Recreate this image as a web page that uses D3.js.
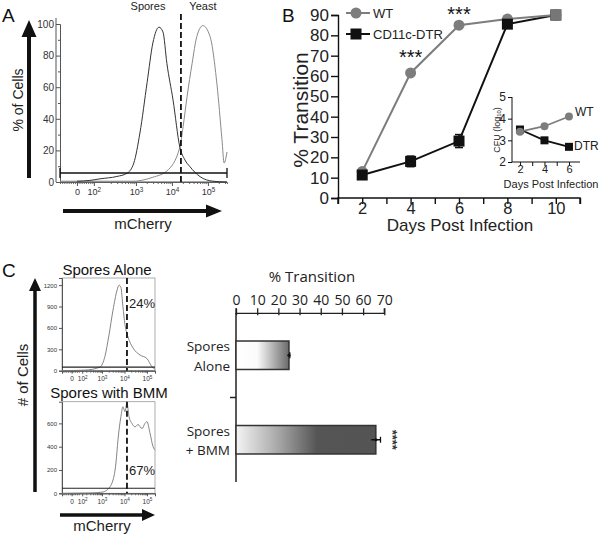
<!DOCTYPE html>
<html><head><meta charset="utf-8">
<script src="https://cdn.jsdelivr.net/npm/d3@7"></script>
<style>
body{margin:0;background:#fff;}
svg{display:block;font-family:"Liberation Sans",Arial,sans-serif;}
</style></head>
<body><svg id="c" width="600" height="537"></svg>
<script>
// ---------- DATA ----------
// Panel A: flow histograms (x = log10 mCherry, y = % of cells)
const sporesLog = [1.36,1.72,2.0,2.47,2.75,2.94,3.11,3.31,3.47,3.64,3.75,3.86,4.03,4.22,4.36,4.5,4.78,5.14,5.53];
const sporesPct = [0.5,1,2,3.5,5.5,12,31,63,88,98,95,75,52,22,14,9.7,3.4,0.5,0];
const yeastLog = [0.89,2.92,3.47,3.86,4.22,4.31,4.42,4.56,4.69,4.86,5.06,5.25,5.39,5.45,5.53];
const yeastPct = [0.5,0.5,3,7,22,35,54,75,92,99,92,62,27,12,19];
const aYTicks = [0,20,40,60,80,100];
const aXTickLog = [1.36,1.83,3,4,5];
const aXTickLabels = [["0",""],["10","2"],["10","3"],["10","4"],["10","5"]];
const gateA = 5.7, thresholdA = 4.25;
const peakLabelsA = ["Spores","Yeast"];

// Panel B: % transition over days
const days = [2,4,6,8,10];
const wtPct = [13,61.5,85,88,90];
const wtErr = [1,1,1.5,0.5,0.5];
const dtrPct = [11.3,18,28,85.5,90];
const dtrErr = [1,2.6,3.2,1,0.5];
const bYTicks = [0,10,20,30,40,50,60,70,80,90];
const sigDays = [4,6];
const sigLevel = [61.5,85];
const seriesNames = ["WT","CD11c-DTR"];
// Inset: CFU
const insetDays = [2,4,6];
const wtCFU = [3.4,3.65,4.1];
const dtrCFU = [3.5,3.0,2.7];
const insetNames = ["WT","DTR"];

// Panel C: histograms
const aloneLog = [1.22,2.24,2.91,3.13,3.31,3.49,3.67,3.76,3.84,3.93,4.02,4.16,4.38,4.69,5.0,5.22,5.36];
const aloneCount = [0,8,50,200,500,850,1130,1200,1170,900,650,470,318,220,170,56,20];
const bmmLog = [1.22,2.47,3.0,3.22,3.49,3.62,3.71,3.84,3.93,4.02,4.11,4.2,4.33,4.47,4.6,4.78,4.91,5.0,5.13,5.27,5.36];
const bmmCount = [0,3,10,28,114,260,458,658,743,700,775,658,600,570,590,555,600,615,520,400,370];
const c1YTicks = [0,300,600,900,1200];
const c2YTicks = [0,200,400,600];
const cXTickLog = [1.65,2.12,3,4,5];
const gateC1 = 50, gateC2 = 43, thresholdC = 4.11;
const pctLabels = ["24%","67%"];
// Panel C bars
const barCats = ["Spores Alone","Spores + BMM"];
const barLines = [["Spores","Alone"],["Spores","+ BMM"]];
const barVals = [25,66];
const barErr = [0.4,2.2];
const barTicks = [0,10,20,30,40,50,60,70];

// ---------- DRAW ----------
const svg = d3.select("#c");
svg.append("rect").attr("width",600).attr("height",537).attr("fill","#fff");
const defs = svg.append("defs");
const fmtInt = d3.format("d");

function arrow(g, x1,y1,x2,y2, shaftW, headL, headW){
  const dx=x2-x1, dy=y2-y1, L=Math.hypot(dx,dy), ux=dx/L, uy=dy/L, px=-uy, py=ux;
  const bx=x2-ux*headL, by=y2-uy*headL;
  const pts=[[x1+px*shaftW/2,y1+py*shaftW/2],[bx+px*shaftW/2,by+py*shaftW/2],[bx+px*headW,by+py*headW],[x2,y2],
    [bx-px*headW,by-py*headW],[bx-px*shaftW/2,by-py*shaftW/2],[x1-px*shaftW/2,y1-py*shaftW/2]];
  g.append("path").attr("d","M"+pts.map(p=>p.join(",")).join("L")+"Z").attr("fill","#111");
}
function panelLabel(t,x,y){ svg.append("text").attr("x",x).attr("y",y).attr("font-size",19).attr("fill","#111").text(t); }
function supLabels(sel, labels, fs){
  sel.each(function(d,i){
    const t=d3.select(this); t.text(null);
    t.append("tspan").text(labels[i][0]);
    if(labels[i][1]) t.append("tspan").attr("font-size",fs*0.7).attr("dy",-fs*0.4).text(labels[i][1]);
  });
}

// ===== Panel A =====
panelLabel("A",2,22);
const gA = svg.append("g");
const xA = d3.scaleLinear().domain([0.889,5.53]).range([60,227]);
const yA = d3.scaleLinear().domain([0,100]).range([182,24]);
gA.append("g").attr("transform","translate(60,0)")
  .call(d3.axisLeft(yA).tickValues(d3.range(10,100,20)).tickSize(2).tickFormat(""))
  .call(g=>g.selectAll("path,line").attr("stroke","#555"));
gA.append("g").attr("transform","translate(60,0)")
  .call(d3.axisLeft(yA).tickValues(aYTicks).tickSize(4).tickPadding(2))
  .call(g=>{g.selectAll("path,line").attr("stroke","#555");g.selectAll("text").attr("font-size",10).attr("fill","#333").attr("font-family","Liberation Sans, Arial");g.select(".domain").attr("d","M-4,182V18");});
const aMinor=[];
d3.range(0.95,1.83,0.06).forEach(v=>aMinor.push(v));
[2,3,4].forEach(dec=>d3.range(2,10).forEach(k=>aMinor.push(dec+Math.log10(k))));
[2,3,4,5,6].forEach(k=>aMinor.push(5+Math.log10(k)));
gA.append("g").attr("transform","translate(0,182)")
  .call(d3.axisBottom(xA).tickValues(aMinor.filter(v=>v<=5.53)).tickSize(2).tickFormat(""))
  .call(g=>{g.selectAll("path,line").attr("stroke","#666");});
gA.append("g").attr("transform","translate(0,182)")
  .call(d3.axisBottom(xA).tickValues(aXTickLog).tickSize(4).tickPadding(3))
  .call(g=>{g.selectAll("path,line").attr("stroke","#555");g.select(".domain").attr("d","M60,0H227");
    const tx=g.selectAll("text").attr("font-size",9).attr("fill","#333"); supLabels(tx,aXTickLabels,9);});
const lineA = d3.line().x(d=>xA(d[0])).y(d=>yA(d[1])).curve(d3.curveMonotoneX);
gA.append("path").datum(d3.zip(yeastLog,yeastPct)).attr("d",lineA).attr("fill","none").attr("stroke","#8a8a8a").attr("stroke-width",1);
gA.append("path").datum(d3.zip(sporesLog,sporesPct)).attr("d",lineA).attr("fill","none").attr("stroke","#333").attr("stroke-width",1);
gA.append("line").attr("x1",60).attr("x2",227).attr("y1",yA(gateA)).attr("y2",yA(gateA)).attr("stroke","#111").attr("stroke-width",1.3);
[60,227].forEach(x=>gA.append("line").attr("x1",x).attr("x2",x).attr("y1",yA(gateA)-5).attr("y2",yA(gateA)+5).attr("stroke","#111").attr("stroke-width",1.3));
gA.append("line").attr("x1",xA(thresholdA)).attr("x2",xA(thresholdA)).attr("y1",14).attr("y2",182)
  .attr("stroke","#111").attr("stroke-width",1.8).attr("stroke-dasharray","6,3");
gA.append("text").attr("x",xA(3.64)-11).attr("y",10).attr("text-anchor","middle").attr("font-size",11).attr("fill","#222").text(peakLabelsA[0]);
gA.append("text").attr("x",xA(4.86)).attr("y",10).attr("text-anchor","middle").attr("font-size",11).attr("fill","#222").text(peakLabelsA[1]);
arrow(gA,29,178,29,20,4,17,7.5);
arrow(gA,63,211,222,211,4,16,6.5);
gA.append("text").attr("transform","translate(18,100) rotate(-90)").attr("text-anchor","middle").attr("dominant-baseline","central").attr("font-size",14).attr("fill","#222").text("% of Cells");
gA.append("text").attr("x",143).attr("y",229).attr("text-anchor","middle").attr("font-size",15).attr("fill","#222").text("mCherry");

// ===== Panel B =====
panelLabel("B",282,22);
const gB = svg.append("g");
const xB = d3.scaleLinear().domain([1,11]).range([338,580]);
const yB = d3.scaleLinear().domain([0,90]).range([198,15]);
gB.append("g").attr("transform","translate(338,0)")
  .call(d3.axisLeft(yB).tickValues(bYTicks).tickSize(7).tickPadding(2))
  .call(g=>{g.selectAll("path,line").attr("stroke","#111").attr("stroke-width",1.4);g.selectAll("text").attr("font-size",17).attr("fill","#222").attr("font-family","Liberation Sans, Arial");});
gB.append("g").attr("transform","translate(0,198)")
  .call(d3.axisBottom(xB).tickValues(d3.range(1,12)).tickSize(6).tickFormat(d=>d%2===0?d:""))
  .call(g=>{g.selectAll("path,line").attr("stroke","#111").attr("stroke-width",1.4);g.select(".domain").attr("d","M338,6V0H580V6");
    g.selectAll("text").attr("y",4).attr("font-size",16.5).attr("fill","#222").attr("font-family","Liberation Sans, Arial");});
const lineB = d3.line().x(d=>xB(d[0])).y(d=>yB(d[1]));
const wtCol="#7d7d7d";
function errBars(g,xs,ys,es,sx,sy,col,cap){
  xs.forEach((x,i)=>{ if(es[i]<=0) return;
    g.append("line").attr("x1",sx(x)).attr("x2",sx(x)).attr("y1",sy(ys[i]-es[i])).attr("y2",sy(ys[i]+es[i])).attr("stroke",col).attr("stroke-width",1.5);
    [ys[i]-es[i],ys[i]+es[i]].forEach(v=>g.append("line").attr("x1",sx(x)-cap).attr("x2",sx(x)+cap).attr("y1",sy(v)).attr("y2",sy(v)).attr("stroke",col).attr("stroke-width",1.5));
  });
}
gB.append("path").datum(d3.zip(days,dtrPct)).attr("d",lineB).attr("fill","none").attr("stroke","#111").attr("stroke-width",2);
gB.append("path").datum(d3.zip(days,wtPct)).attr("d",lineB).attr("fill","none").attr("stroke",wtCol).attr("stroke-width",2);
errBars(gB,days,wtPct,wtErr,xB,yB,wtCol,4);
errBars(gB,days,dtrPct,dtrErr,xB,yB,"#111",4);
gB.selectAll(".wt").data(days).enter().append("circle").attr("cx",d=>xB(d)).attr("cy",(d,i)=>yB(wtPct[i])).attr("r",5.5).attr("fill",wtCol);
gB.selectAll(".dtr").data(days).enter().append("rect").attr("x",d=>xB(d)-5.5).attr("y",(d,i)=>yB(dtrPct[i])-5.5).attr("width",11).attr("height",11).attr("fill","#111");
gB.append("rect").attr("x",xB(10)-5.5).attr("y",yB(90)-5.5).attr("width",11).attr("height",11).attr("fill","#777");
sigDays.forEach((d,i)=>gB.append("text").attr("x",xB(d)).attr("y",yB(sigLevel[i])-(i===0?-1:-6)-10).attr("text-anchor","middle").attr("font-size",20).attr("fill","#111").text("***"));
gB.append("line").attr("x1",346).attr("x2",370).attr("y1",13).attr("y2",13).attr("stroke",wtCol).attr("stroke-width",2);
gB.append("circle").attr("cx",356).attr("cy",13).attr("r",5.5).attr("fill",wtCol);
gB.append("text").attr("x",373).attr("y",18).attr("font-size",13).attr("fill","#222").text(seriesNames[0]);
gB.append("line").attr("x1",346).attr("x2",370).attr("y1",34).attr("y2",34).attr("stroke","#111").attr("stroke-width",2);
gB.append("rect").attr("x",350.5).attr("y",28.5).attr("width",11).attr("height",11).attr("fill","#111");
gB.append("text").attr("x",373).attr("y",39).attr("font-size",13).attr("fill","#222").text(seriesNames[1]);
gB.append("text").attr("transform","translate(300,110) rotate(-90)").attr("text-anchor","middle").attr("dominant-baseline","central").attr("font-size",21).attr("fill","#222").text("% Transition");
gB.append("text").attr("x",460).attr("y",231).attr("text-anchor","middle").attr("font-size",17).attr("fill","#222").text("Days Post Infection");
// inset
const xI = d3.scaleLinear().domain([1.35,6.9]).range([512,580]);
const yI = d3.scaleLinear().domain([2,5]).range([162,97]);
gB.append("g").attr("transform","translate(512,0)")
  .call(d3.axisLeft(yI).tickValues([2,3,4,5]).tickSize(4).tickPadding(2).tickFormat(fmtInt))
  .call(g=>{g.selectAll("path,line").attr("stroke","#111");g.select(".domain").attr("d","M0,97V162");g.selectAll("text").attr("font-size",12).attr("fill","#222").attr("font-family","Liberation Sans, Arial");});
gB.append("g").attr("transform","translate(0,162)")
  .call(d3.axisBottom(xI).tickValues([2,3,4,5,6]).tickSize(4).tickFormat(d=>d%2===0?d:""))
  .call(g=>{g.selectAll("path,line").attr("stroke","#111");g.select(".domain").attr("d","M512,0H580");
    g.selectAll("text").attr("y",3).attr("font-size",11).attr("fill","#222").attr("font-family","Liberation Sans, Arial");});
const lineI = d3.line().x(d=>xI(d[0])).y(d=>yI(d[1]));
gB.append("path").datum(d3.zip(insetDays,dtrCFU)).attr("d",lineI).attr("fill","none").attr("stroke","#111").attr("stroke-width",1.8);
gB.append("path").datum(d3.zip(insetDays,wtCFU)).attr("d",lineI).attr("fill","none").attr("stroke",wtCol).attr("stroke-width",1.8);
insetDays.forEach((d,i)=>{
  gB.append("rect").attr("x",xI(d)-4).attr("y",yI(dtrCFU[i])-4).attr("width",8).attr("height",8).attr("fill","#111");
  gB.append("circle").attr("cx",xI(d)).attr("cy",yI(wtCFU[i])).attr("r",4).attr("fill",wtCol);
});
gB.append("text").attr("x",575).attr("y",116).attr("font-size",12).attr("fill","#222").text(insetNames[0]);
gB.append("text").attr("x",574).attr("y",150).attr("font-size",12).attr("fill","#222").text(insetNames[1]);
const cfu = gB.append("text").attr("transform","translate(497,130) rotate(-90)").attr("text-anchor","middle").attr("dominant-baseline","central").attr("font-size",9).attr("fill","#222");
cfu.append("tspan").text("CFU (log");
cfu.append("tspan").attr("font-size",6).attr("dy",2).text("10");
cfu.append("tspan").attr("dy",-2).text(")");
gB.append("text").attr("x",551).attr("y",188).attr("text-anchor","middle").attr("font-size",11).attr("fill","#222").text("Days Post Infection");

// ===== Panel C histograms =====
panelLabel("C",2,277);
const gC = svg.append("g");
const xC = d3.scaleLinear().domain([1.222,5.356]).range([62,155]);
const yC1 = d3.scaleLinear().domain([0,1300]).range([370.7,278]);
const yC2 = d3.scaleLinear().domain([0,786]).range([493.3,401.7]);
const cLabels=[["0",""],["10","2"],["10","3"],["10","4"],["10","5"]];
function cHist(yS, ticks, xs, ys, gate, pct, pctY){
  gC.append("rect").attr("x",62).attr("y",yS.range()[1]).attr("width",93).attr("height",yS.range()[0]-yS.range()[1]).attr("fill","none").attr("stroke","#999").attr("stroke-width",0.8);
  gC.append("g").attr("transform","translate(62,0)")
    .call(d3.axisLeft(yS).tickValues(ticks).tickSize(3).tickPadding(2).tickFormat(fmtInt))
    .call(g=>{g.selectAll("path,line").attr("stroke","#555");g.selectAll("text").attr("font-size",6).attr("fill","#333").attr("font-family","Liberation Sans, Arial");});
  const mn=[]; [2,3,4].forEach(dec=>d3.range(2,10).forEach(k=>mn.push(dec+Math.log10(k)))); d3.range(1.25,1.98,0.08).forEach(v=>mn.push(v));
  gC.append("g").attr("transform",`translate(0,${yS.range()[0]})`)
    .call(d3.axisBottom(xC).tickValues(mn).tickSize(2).tickFormat(""))
    .call(g=>{g.selectAll("path,line").attr("stroke","#666");});
  gC.append("g").attr("transform",`translate(0,${yS.range()[0]})`)
    .call(d3.axisBottom(xC).tickValues(cXTickLog).tickSize(3).tickPadding(3))
    .call(g=>{g.selectAll("path,line").attr("stroke","#555");const tx=g.selectAll("text").attr("font-size",6.5).attr("fill","#333"); supLabels(tx,cLabels,6.5);});
  const ln=d3.line().x(d=>xC(d[0])).y(d=>yS(d[1])).curve(d3.curveMonotoneX);
  gC.append("path").datum(d3.zip(xs,ys)).attr("d",ln).attr("fill","none").attr("stroke","#777").attr("stroke-width",0.9);
  gC.append("line").attr("x1",62).attr("x2",155).attr("y1",yS(gate)).attr("y2",yS(gate)).attr("stroke","#222").attr("stroke-width",1.1);
  gC.append("line").attr("x1",xC(thresholdC)).attr("x2",xC(thresholdC)).attr("y1",yS.range()[1]).attr("y2",yS.range()[0])
    .attr("stroke","#111").attr("stroke-width",1.8).attr("stroke-dasharray","6,3");
  gC.append("text").attr("x",xC(thresholdC)+2).attr("y",pctY).attr("font-size",13).attr("fill","#222").text(pct);
}
cHist(yC1,c1YTicks,aloneLog,aloneCount,gateC1,pctLabels[0],308);
cHist(yC2,c2YTicks,bmmLog,bmmCount,gateC2,pctLabels[1],475);
gC.append("text").attr("x",107).attr("y",275).attr("text-anchor","middle").attr("font-size",15).attr("fill","#111").text("Spores Alone");
gC.append("text").attr("x",109).attr("y",398).attr("text-anchor","middle").attr("font-size",15).attr("fill","#111").text("Spores with BMM");
arrow(gC,35,492,35,278,3.5,13,6);
arrow(gC,60,515,155,515,3.5,13,6);
gC.append("text").attr("transform","translate(22,375) rotate(-90)").attr("text-anchor","middle").attr("dominant-baseline","central").attr("font-size",15).attr("fill","#222").text("# of Cells");
gC.append("text").attr("x",102).attr("y",531).attr("text-anchor","middle").attr("font-size",15).attr("fill","#222").text("mCherry");

// ===== Panel C bars =====
const gD = svg.append("g").attr("font-family","'Open Sans','Noto Sans',sans-serif");
const xBar = d3.scaleLinear().domain([0,70]).range([236,384.3]);
const yBar = d3.scaleBand().domain(barCats).range([313,482]).paddingInner(0.663).paddingOuter(0.3315);
const g1 = defs.append("linearGradient").attr("id","grad0").attr("x1","0").attr("x2","1").attr("y1","0").attr("y2","0");
g1.append("stop").attr("offset","0").attr("stop-color","#ffffff");
g1.append("stop").attr("offset","0.4").attr("stop-color","#fbfbfb");
g1.append("stop").attr("offset","1").attr("stop-color","#6a6a6a");
const g2 = defs.append("linearGradient").attr("id","grad1").attr("x1","0").attr("x2","1").attr("y1","0").attr("y2","0");
g2.append("stop").attr("offset","0").attr("stop-color","#f4f4f4");
g2.append("stop").attr("offset","0.3").attr("stop-color","#a8a8a8");
g2.append("stop").attr("offset","0.58").attr("stop-color","#555");
g2.append("stop").attr("offset","1").attr("stop-color","#545454");
gD.append("g").attr("transform","translate(0,313.3)")
  .call(d3.axisTop(xBar).tickValues(barTicks).tickSize(5).tickPadding(3))
  .call(g=>{g.selectAll("path,line").attr("stroke","#222").attr("stroke-width",1.3);g.select(".domain").attr("d","M236,-5V0H384.3V-5");
    g.selectAll(".tick line").attr("y2",-5).attr("y1",2);
    g.selectAll("text").attr("font-size",14).attr("fill","#222").attr("font-family","'Open Sans','Noto Sans',sans-serif");});
gD.append("line").attr("x1",236).attr("x2",236).attr("y1",313).attr("y2",482).attr("stroke","#222").attr("stroke-width",1.5);
const sepY = (yBar(barCats[0])+yBar.bandwidth()+yBar(barCats[1]))/2;
gD.append("line").attr("x1",230).attr("x2",236).attr("y1",sepY).attr("y2",sepY).attr("stroke","#222").attr("stroke-width",1.5);
barCats.forEach((c,i)=>{
  gD.append("rect").attr("x",xBar(0)).attr("y",yBar(c)).attr("width",xBar(barVals[i])-xBar(0)).attr("height",yBar.bandwidth())
    .attr("fill",`url(#grad${i})`).attr("stroke","#333").attr("stroke-width",1.5);
  const cy=yBar(c)+yBar.bandwidth()/2;
  gD.append("line").attr("x1",xBar(barVals[i]-barErr[i])).attr("x2",xBar(barVals[i]+barErr[i])).attr("y1",cy).attr("y2",cy).attr("stroke","#111").attr("stroke-width",1.5);
  gD.append("line").attr("x1",xBar(barVals[i]+barErr[i])).attr("x2",xBar(barVals[i]+barErr[i])).attr("y1",cy-3).attr("y2",cy+3).attr("stroke","#111").attr("stroke-width",1.3);
  gD.append("circle").attr("cx",xBar(barVals[i])).attr("cy",cy).attr("r",1.6).attr("fill","#111");
  barLines[i].forEach((t,j)=>gD.append("text").attr("x",230).attr("y",cy-4+j*19.5).attr("text-anchor","end").attr("font-size",13.5).attr("fill","#222").text(t));
});
gD.append("text").attr("x",312).attr("y",282).attr("text-anchor","middle").attr("font-size",15).attr("fill","#222").text("% Transition");
const cy2=yBar(barCats[1])+yBar.bandwidth()/2;
gD.append("text").attr("transform",`translate(${xBar(70)+4},${cy2}) rotate(90)`).attr("text-anchor","middle").attr("font-size",13).attr("font-weight","bold").attr("fill","#333").attr("font-family","Liberation Sans, Arial").text("****");
</script></body></html>
